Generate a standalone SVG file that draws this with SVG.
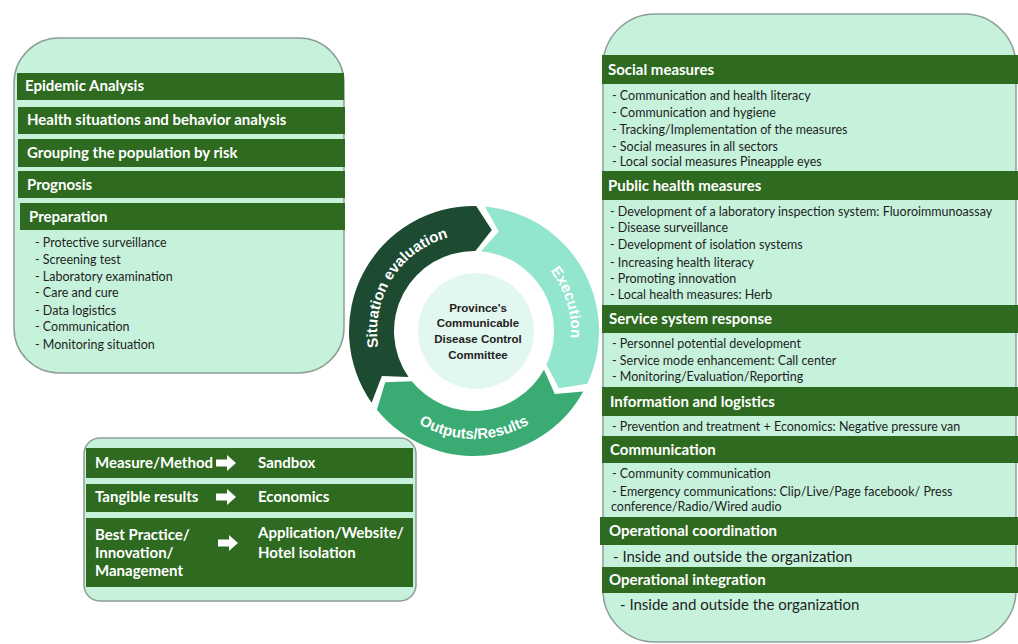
<svg xmlns="http://www.w3.org/2000/svg" width="1018" height="644" viewBox="0 0 1018 644">
<style>
.panel{fill:#c6f2dc;stroke:#8d9e95;stroke-width:1.5}
.bar{fill:#2e6a1f}
.hdr{font-family:Lato,"Liberation Sans",sans-serif;font-weight:700;font-size:15px;fill:#fff}
.bul{font-family:Lato,"Liberation Sans",sans-serif;font-size:12.5px;fill:#1e1e1e}
.big{font-family:Lato,"Liberation Sans",sans-serif;font-size:15px;fill:#1e1e1e}
.arc{font-family:"Liberation Sans",Arial,sans-serif;font-weight:700;font-size:15px;fill:#fff}
.ctr{font-family:"Liberation Sans",Arial,sans-serif;font-weight:700;font-size:11.5px;fill:#222;text-anchor:middle}
</style>
<defs>
<path id="wa" d="M0 -3.5 H11 V-8 L20 0 L11 8 V3.5 H0 Z" fill="#fff"/>
<path id="tpDark" d="M390.0 379.5 A97 97 0 0 1 482.5 234.4" fill="none"/>
<path id="tpMint" d="M522.5 247.0 A97 97 0 0 1 561.2 373.5" fill="none"/>
<path id="tpGreen" d="M380.5 385 A108 108 0 0 0 567.5 385" fill="none"/>
</defs>
<rect width="1018" height="644" fill="#fff"/>

<g id="left-panel">
<rect class="panel" x="14" y="38" width="330" height="335" rx="45" ry="45"/>
<rect class="bar" x="17" y="73" width="327" height="27"/>
<text class="hdr" x="25" y="91">Epidemic Analysis</text>
<rect class="bar" x="18" y="107" width="327" height="27"/>
<text class="hdr" x="27" y="125">Health situations and behavior analysis</text>
<rect class="bar" x="18" y="139" width="327" height="28"/>
<text class="hdr" x="27" y="158">Grouping the population by risk</text>
<rect class="bar" x="18" y="171" width="327" height="27"/>
<text class="hdr" x="27" y="190">Prognosis</text>
<rect class="bar" x="20" y="203" width="325" height="27"/>
<text class="hdr" x="29" y="222">Preparation</text>
<text class="bul" x="35" y="247">- Protective surveillance</text>
<text class="bul" x="35" y="264">- Screening test</text>
<text class="bul" x="35" y="281">- Laboratory examination</text>
<text class="bul" x="35" y="297">- Care and cure</text>
<text class="bul" x="35" y="315">- Data logistics</text>
<text class="bul" x="35" y="331">- Communication</text>
<text class="bul" x="35" y="349">- Monitoring situation</text>
</g>

<g id="cycle">
<g id="situation-evaluation">
<path d="M371.6 402.7 A125 125 0 0 1 476.2 206.0 L491.8 230.1 L475.4 251.0 A80 80 0 0 0 408.5 376.9 L381.9 375.9 Z" fill="#1d4b31"/>
<text class="arc"><textPath href="#tpDark" startOffset="50%" text-anchor="middle">Situation evaluation</textPath></text>
</g>
<g id="execution">
<path d="M484.9 206.5 A125 125 0 0 1 587.3 383.8 L559.0 388.3 L546.5 364.8 A80 80 0 0 0 481.0 251.3 L498.8 231.5 Z" fill="#92e6cd"/>
<text class="arc"><textPath href="#tpMint" startOffset="50%" text-anchor="middle">Execution</textPath></text>
</g>
<g id="outputs-results">
<path d="M583.3 391.6 A125 125 0 0 1 376.9 409.7 L385.2 382.3 L411.8 381.3 A80 80 0 0 0 544.0 369.8 L554.8 394.1 Z" fill="#3bab74"/>
<text class="arc"><textPath href="#tpGreen" startOffset="50%" text-anchor="middle">Outputs/Results</textPath></text>
</g>
<g id="committee">
<circle cx="476" cy="331" r="58" fill="#e2f7ef"/>
<text class="ctr" x="478" y="312">Province's</text>
<text class="ctr" x="478" y="327">Communicable</text>
<text class="ctr" x="478" y="343">Disease Control</text>
<text class="ctr" x="478" y="359">Committee</text>
</g>
</g>

<g id="results-panel">
<rect class="panel" x="84" y="438" width="332" height="163" rx="16" ry="16"/>
<rect class="bar" x="86" y="448" width="327" height="30"/>
<text class="hdr" x="95" y="468">Measure/Method</text>
<text class="hdr" x="258" y="468">Sandbox</text>
<rect class="bar" x="86" y="484" width="327" height="28"/>
<text class="hdr" x="95" y="502">Tangible results</text>
<text class="hdr" x="258" y="502">Economics</text>
<rect class="bar" x="86" y="518" width="327" height="69"/>
<text class="hdr" x="95" y="540">Best Practice/</text>
<text class="hdr" x="95" y="558">Innovation/</text>
<text class="hdr" x="95" y="576">Management</text>
<text class="hdr" x="258" y="538">Application/Website/</text>
<text class="hdr" x="258" y="558">Hotel isolation</text>
</g>

<g id="connectors">
<use href="#wa" x="216" y="463"/>
<use href="#wa" x="216" y="497"/>
<use href="#wa" x="218" y="543"/>
</g>

<g id="right-panel">
<rect class="panel" x="603" y="14" width="413" height="628" rx="52" ry="52"/>
<g id="social-measures">
<rect class="bar" x="602" y="55" width="416" height="29"/>
<text class="hdr" x="608" y="75">Social measures</text>
<text class="bul" x="612" y="100">- Communication and health literacy</text>
<text class="bul" x="612" y="117">- Communication and hygiene</text>
<text class="bul" x="612" y="134">- Tracking/Implementation of the measures</text>
<text class="bul" x="612" y="151">- Social measures in all sectors</text>
<text class="bul" x="612" y="166">- Local social measures Pineapple eyes</text>
</g>
<g id="public-health-measures">
<rect class="bar" x="602" y="171" width="416" height="29"/>
<text class="hdr" x="608" y="191">Public health measures</text>
<text class="bul" x="610" y="216">- Development of a laboratory inspection system: Fluoroimmunoassay</text>
<text class="bul" x="610" y="232">- Disease surveillance</text>
<text class="bul" x="610" y="249">- Development of isolation systems</text>
<text class="bul" x="610" y="267">- Increasing health literacy</text>
<text class="bul" x="610" y="283">- Promoting innovation</text>
<text class="bul" x="610" y="299">- Local health measures: Herb</text>
</g>
<g id="service-system-response">
<rect class="bar" x="602" y="305" width="416" height="28"/>
<text class="hdr" x="609" y="324">Service system response</text>
<text class="bul" x="612" y="348">- Personnel potential development</text>
<text class="bul" x="612" y="365">- Service mode enhancement: Call center</text>
<text class="bul" x="612" y="381">- Monitoring/Evaluation/Reporting</text>
</g>
<g id="information-logistics">
<rect class="bar" x="602" y="387" width="416" height="29"/>
<text class="hdr" x="610" y="407">Information and logistics</text>
<text class="bul" x="612" y="431">- Prevention and treatment + Economics: Negative pressure van</text>
</g>
<g id="communication">
<rect class="bar" x="602" y="436" width="416" height="27"/>
<text class="hdr" x="610" y="455">Communication</text>
<text class="bul" x="612" y="478">- Community communication</text>
<text class="bul" x="612" y="496">- Emergency communications: Clip/Live/Page facebook/ Press</text>
<text class="bul" x="611" y="511">conference/Radio/Wired audio</text>
</g>
<g id="operational-coordination">
<rect class="bar" x="600" y="517" width="418" height="28"/>
<text class="hdr" x="609" y="536">Operational coordination</text>
<text class="big" x="613" y="562">- Inside and outside the organization</text>
</g>
<g id="operational-integration">
<rect class="bar" x="602" y="567" width="416" height="26"/>
<text class="hdr" x="609" y="585">Operational integration</text>
<text class="big" x="620" y="610">- Inside and outside the organization</text>
</g>
</g>
</svg>
